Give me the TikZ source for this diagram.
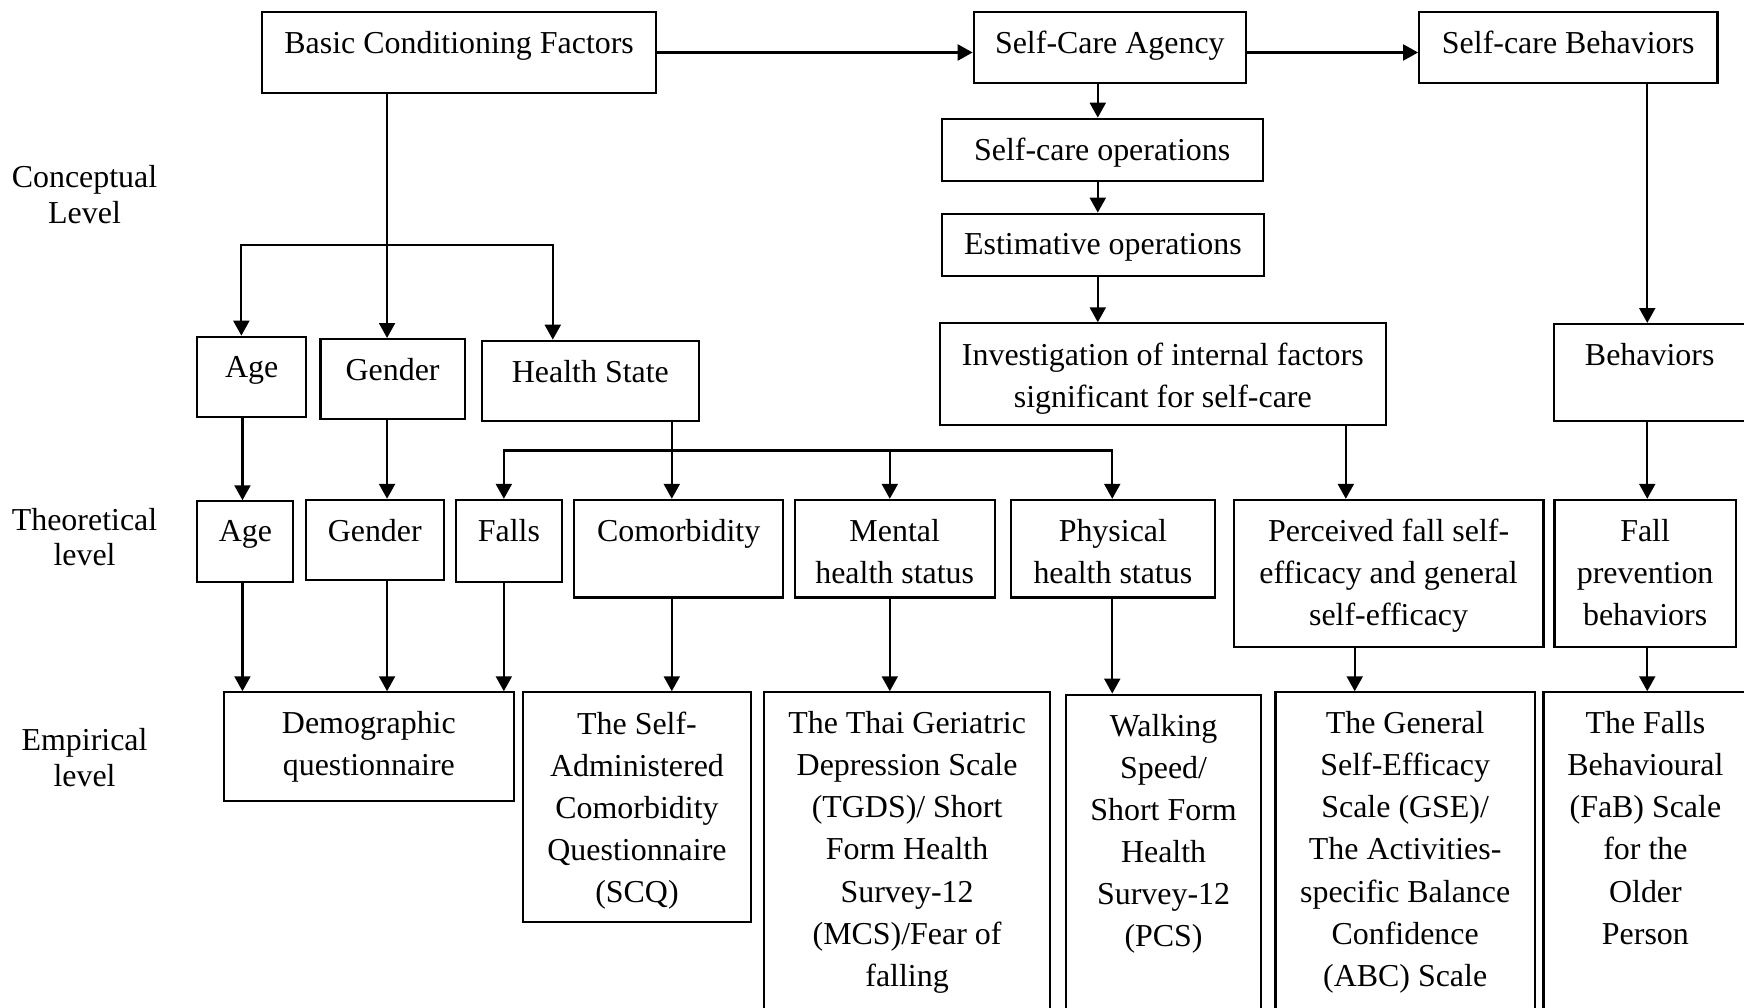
\documentclass[tikz,border=0pt]{standalone}
\usepackage{fontspec}
\setmainfont{Liberation Serif}
\usetikzlibrary{arrows.meta,fit}

\tikzset{
  box/.style={draw, line width=0.8pt, inner sep=0pt},
  txt/.style={anchor=north, align=center, inner xsep=0pt, inner ysep=7.5pt,
    font=\fontsize{12}{15.8}\selectfont},
  lvl/.style={align=center, inner sep=0pt, font=\fontsize{12}{13.4}\selectfont},
  line/.style={line width=0.8pt},
  arr/.style={line width=0.8pt, -{Triangle[length=5.6pt,width=6pt]}}
}

\begin{document}
\begin{tikzpicture}[x=0.418pt, y=-0.418pt]
    \useasboundingbox (0,0) rectangle (1568,906);

    % level names
    \node[lvl] (conc) at (76,175) {Conceptual\\Level};
    \node[lvl] (theo) at (76,483) {Theoretical\\level};
    \node[lvl] (empi) at (76,681) {Empirical\\level};

    % top row
    \node[box, fit={(235.6,10.5) (590,83.9)},
        label={[txt]north:Basic Conditioning Factors}] (bcf) {};
    \node[box, fit={(875.4,10.5) (1120.3,74.3)},
        label={[txt]north:Self-Care Agency}] (sca) {};
    \node[box, fit={(1275.9,10.5) (1544.1,74.3)},
        label={[txt]north:Self-care Behaviors}] (scb) {};
    \node[box, fit={(846.7,106.7) (1135.2,162.7)},
        label={[txt]north:Self-care operations}] (sco) {};
    \node[box, fit={(846.7,192.1) (1136.4,248.5)},
        label={[txt]north:Estimative operations}] (eo) {};

    % conceptual level
    \node[box, fit={(177.4,302.7) (275.3,375.2)},
        label={[txt]north:Age}] (age1) {};
    \node[box, fit={(288.2,304.8) (417.8,376.4)},
        label={[txt]north:Gender}] (gen1) {};
    \node[box, fit={(433.4,306.3) (628.2,378.2)},
        label={[txt]north:Health State}] (hs1) {};
    \node[box, fit={(844.9,290.7) (1246,382.4)},
        label={[txt]north:{Investigation of internal factors\\significant for self-care}}] (inv) {};
    \node[box, fit={(1397.4,291.3) (1569,378.2)},
        label={[txt]north:Behaviors}] (beh) {};

    % theoretical level
    \node[box, fit={(177.5,450.7) (263.8,523.1)},
        label={[txt]north:Age}] (age2) {};
    \node[box, fit={(274.8,449.4) (399.1,521.7)},
        label={[txt]north:Gender}] (gen2) {};
    \node[box, fit={(409.6,449.4) (505.5,523.1)},
        label={[txt]north:Falls}] (falls) {};
    \node[box, fit={(516.1,449.4) (704.2,537.2)},
        label={[txt]north:Comorbidity}] (comor) {};
    \node[box, fit={(714.6,449.4) (894.2,537.2)},
        label={[txt]north:{Mental\\health status}}] (mental) {};
    \node[box, fit={(909.1,449.4) (1092,537.2)},
        label={[txt]north:{Physical\\health status}}] (phys) {};
    \node[box, fit={(1109.2,449.4) (1387.7,581.4)},
        label={[txt]north:{Perceived fall self-\\efficacy and general\\self-efficacy}}] (perc) {};
    \node[box, fit={(1397.6,449.4) (1560.6,581.4)},
        label={[txt]north:{Fall\\prevention\\behaviors}}] (fp) {};

    % empirical level
    \node[box, fit={(201.4,622.4) (461.9,720.4)},
        label={[txt]north:{Demographic\\questionnaire}}] (demo) {};
    \node[box, fit={(470.2,622.4) (675.2,829.2)},
        label={[txt]north:{The Self-\\Administered\\Comorbidity\\Questionnaire\\(SCQ)}}] (scq) {};
    \node[box, fit={(686.7,622.4) (944.4,920)},
        label={[txt]north:{The Thai Geriatric\\Depression Scale\\(TGDS)/ Short\\Form Health\\Survey-12\\(MCS)/Fear of\\falling}}] (thai) {};
    \node[box, fit={(958.3,624.5) (1134,920)},
        label={[txt]north:{Walking\\Speed/\\Short Form\\Health\\Survey-12\\(PCS)}}] (walk) {};
    \node[box, fit={(1146.7,622.4) (1380,920)},
        label={[txt]north:{The General\\Self-Efficacy\\Scale (GSE)/\\The Activities-\\specific Balance\\Confidence\\(ABC) Scale}}] (gse) {};
    \node[box, fit={(1387.7,622.4) (1571,920)},
        label={[txt]north:{The Falls\\Behavioural\\(FaB) Scale\\for the\\Older\\Person}}] (fab) {};

    % top arrows
    \draw[arr] (bcf.east) -- (bcf.east -| sca.west);
    \draw[arr] (sca.east |- bcf.east) -- (scb.west |- bcf.east);

    % branches
    \coordinate (br1) at (348,220);
    \coordinate (br2) at (604,405);
    \draw[line] (bcf.south -| br1) -- (br1);
    \draw[arr] (br1) -| (age1.north -| 217,0);
    \draw[arr] (br1) -- (gen1.north -| br1);
    \draw[arr] (br1) -| (hs1.north -| 497,0);
    \draw[line] (hs1.south -| br2) -- (br2);
    \draw[arr] (br2) -| (falls.north -| 453,0);
    \draw[arr] (br2) -- (comor.north -| br2);
    \draw[arr] (br2) -| (mental.north -| 800,0);
    \draw[arr] (br2) -| (phys.north -| 1000,0);

    % straight drops
    \foreach \a/\b/\x in {sca/sco/987, sco/eo/987, eo/inv/987, scb/beh/1481,
        age1/age2/218, gen1/gen2/348, inv/perc/1210, beh/fp/1481,
        age2/demo/218, gen2/demo/348, falls/demo/453, comor/scq/604,
        mental/thai/800, phys/walk/1000, perc/gse/1218, fp/fab/1481}
        \draw[arr] (\a.south -| \x,0) -- (\b.north -| \x,0);
\end{tikzpicture}
\end{document}
